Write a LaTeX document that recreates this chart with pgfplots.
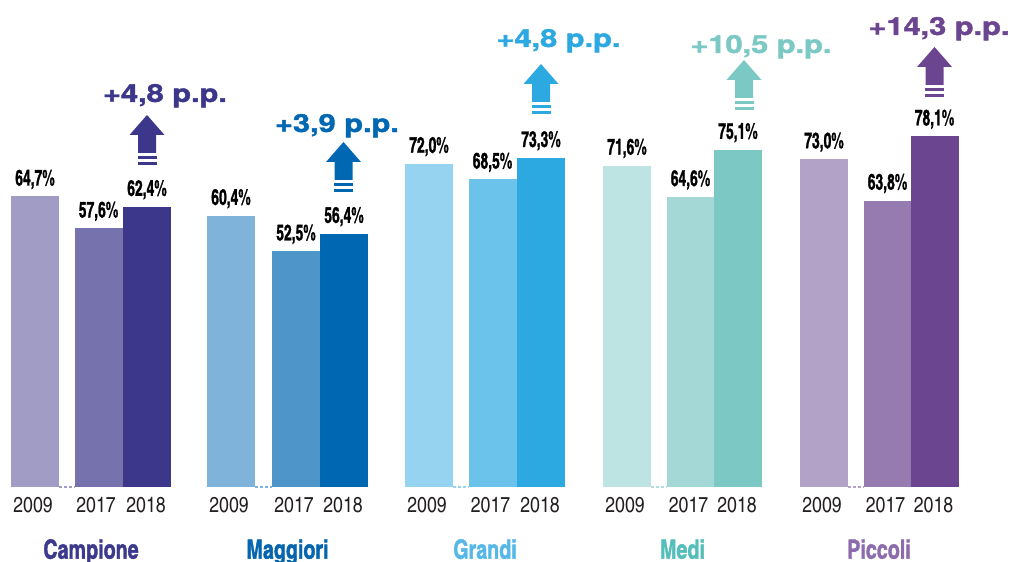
\documentclass[border=0pt]{standalone}
\usepackage{pgfplots}
\pgfplotsset{compat=1.18}
\usepackage{graphicx}
\usepackage{fontspec}
\setmainfont{TeX Gyre Heros}
\newfontfamily\cnfont{texgyreheroscn}[Extension=.otf, UprightFont=*-regular, BoldFont=*-bold]
\newfontfamily\cnblack{texgyreheroscn-bold.otf}[FakeBold=1.5]
\newfontfamily\ppfont{texgyreheros-bold.otf}[FakeBold=1.5]

\definecolor{C1}{HTML}{A09CC6}\definecolor{C2}{HTML}{7572AE}\definecolor{C3}{HTML}{3C378B}
\definecolor{M1}{HTML}{80B3D9}\definecolor{M2}{HTML}{4E95C9}\definecolor{M3}{HTML}{0068B3}
\definecolor{G1}{HTML}{95D3F1}\definecolor{G2}{HTML}{6BC2EB}\definecolor{G3}{HTML}{2DA9E1}
\definecolor{E1}{HTML}{BDE3E3}\definecolor{E2}{HTML}{A4D8D6}\definecolor{E3}{HTML}{7CC8C5}
\definecolor{P1}{HTML}{B3A2C8}\definecolor{P2}{HTML}{967BB0}\definecolor{P3}{HTML}{6C4590}
\definecolor{nC}{HTML}{3D3A8E}\definecolor{nM}{HTML}{0565AF}\definecolor{nG}{HTML}{56B8E6}
\definecolor{nE}{HTML}{56BEBA}\definecolor{nP}{HTML}{8D6CAE}
\definecolor{yrc}{HTML}{231F20}

\tikzset{
 yr/.style={anchor=base, text=yrc, inner sep=0pt, font=\cnfont\fontsize{10.8}{12}\selectfont},
 gn/.style={anchor=base, inner sep=0pt, font=\cnblack\fontsize{13.2}{15}\selectfont},
 pp/.style={anchor=base, inner sep=0pt, font=\ppfont\fontsize{12.4}{14}\selectfont},
}

\newcommand\uparr[3]{%
 \begin{scope}[shift={(axis cs:#1,#2)}]
 \fill[#3] (0pt,0pt) -- (8.75pt,-10pt) -- (4.5pt,-10pt) -- (4.5pt,-19pt) -- (-4.5pt,-19pt) -- (-4.5pt,-10pt) -- (-8.75pt,-10pt) -- cycle;
 \fill[#3] (-4.75pt,-20.5pt) rectangle (4.75pt,-22pt);
 \fill[#3] (-4.75pt,-23.5pt) rectangle (4.75pt,-25pt);
 \end{scope}}

\begin{document}
\begin{tikzpicture}
\begin{axis}[
 width=506pt, height=281pt, scale only axis,
 xmin=0, xmax=1012, ymin=-16.70, ymax=108.46,
 hide axis, clip=false,
 mybar/.style={ybar, bar width=24pt, bar shift=0pt, draw=none, fill=#1},
 nodes near coords={\scalebox{0.77}[1]{\pgfmathprintnumber[assume math mode=true,use comma,fixed,fixed zerofill,precision=1]{\pgfplotspointmeta}\%}},
 every node near coord/.append style={anchor=base, yshift=5.5pt, text=black, inner sep=0pt, font=\cnblack\fontsize{11}{12}\selectfont},
]
% Campione
\addplot[mybar=C1] coordinates {(35,64.7)};
\addplot[mybar=C2] coordinates {(98.5,57.6)};
\addplot[mybar=C3] coordinates {(147,62.4)};
% Maggiori
\addplot[mybar=M1] coordinates {(231,60.4)};
\addplot[mybar=M2] coordinates {(296,52.5)};
\addplot[mybar=M3] coordinates {(344,56.4)};
% Grandi
\addplot[mybar=G1] coordinates {(429,72.0)};
\addplot[mybar=G2] coordinates {(492.5,68.5)};
\addplot[mybar=G3] coordinates {(541,73.3)};
% Medi
\addplot[mybar=E1] coordinates {(627,71.6)};
\addplot[mybar=E2] coordinates {(690.5,64.6)};
\addplot[mybar=E3] coordinates {(738,75.1)};
% Piccoli
\addplot[mybar=P1] coordinates {(824,73.0)};
\addplot[mybar=P2] coordinates {(887.5,63.8)};
\addplot[mybar=P3] coordinates {(934.5,78.1)};

% dashed connectors
\draw[C1, line width=0.6pt, dash pattern=on 1.5pt off 1pt] (axis cs:59,0) -- (axis cs:74.5,0);
\draw[M1, line width=0.6pt, dash pattern=on 1.5pt off 1pt] (axis cs:255,0) -- (axis cs:272,0);
\draw[G1, line width=0.6pt, dash pattern=on 1.5pt off 1pt] (axis cs:453,0) -- (axis cs:468.5,0);
\draw[E1!80!E3, line width=0.6pt, dash pattern=on 1.5pt off 1pt] (axis cs:651,0) -- (axis cs:666.5,0);
\draw[P1, line width=0.6pt, dash pattern=on 1.5pt off 1pt] (axis cs:848,0) -- (axis cs:863.5,0);

% year labels
\node[yr] at (axis cs:33,-5.57) {2009};
\node[yr] at (axis cs:96,-5.57) {2017};
\node[yr] at (axis cs:146,-5.57) {2018};
\node[yr] at (axis cs:229,-5.57) {2009};
\node[yr] at (axis cs:294,-5.57) {2017};
\node[yr] at (axis cs:343,-5.57) {2018};
\node[yr] at (axis cs:427,-5.57) {2009};
\node[yr] at (axis cs:490.5,-5.57) {2017};
\node[yr] at (axis cs:540,-5.57) {2018};
\node[yr] at (axis cs:625,-5.57) {2009};
\node[yr] at (axis cs:688.5,-5.57) {2017};
\node[yr] at (axis cs:737,-5.57) {2018};
\node[yr] at (axis cs:822,-5.57) {2009};
\node[yr] at (axis cs:885.5,-5.57) {2017};
\node[yr] at (axis cs:933.5,-5.57) {2018};

% group names
\node[gn, text=nC] at (axis cs:91,-15.95) {\scalebox{0.91}[1]{Campione}};
\node[gn, text=nM] at (axis cs:287.5,-15.95) {\scalebox{0.91}[1]{Maggiori}};
\node[gn, text=nG] at (axis cs:485,-15.95) {\scalebox{0.91}[1]{Grandi}};
\node[gn, text=nE] at (axis cs:682.5,-15.95) {\scalebox{0.91}[1]{Medi}};
\node[gn, text=nP] at (axis cs:879,-15.95) {\scalebox{0.91}[1]{Piccoli}};

% arrows
\uparr{147}{82.85}{C3}
\uparr{343.5}{76.84}{M3}
\uparr{541}{94.21}{G3}
\uparr{744}{95.10}{E3}
\uparr{934.5}{98.0}{P3}

% p.p. labels
\node[pp, text=C3] at (axis cs:165,85.75) {\scalebox{1.24}[1]{+4,8 p.p.}};
\node[pp, text=M3] at (axis cs:337,79.06) {\scalebox{1.24}[1]{+3,9 p.p.}};
\node[pp, text=G3] at (axis cs:558.5,98.0) {\scalebox{1.24}[1]{+4,8 p.p.}};
\node[pp, text=E3] at (axis cs:761,96.66) {\scalebox{1.24}[1]{+10,5 p.p.}};
\node[pp, text=P3] at (axis cs:939,100.67) {\scalebox{1.24}[1]{+14,3 p.p.}};
\end{axis}
\pgfresetboundingbox
\path (current axis.south west) rectangle (current axis.north east);
\end{tikzpicture}
\end{document}
